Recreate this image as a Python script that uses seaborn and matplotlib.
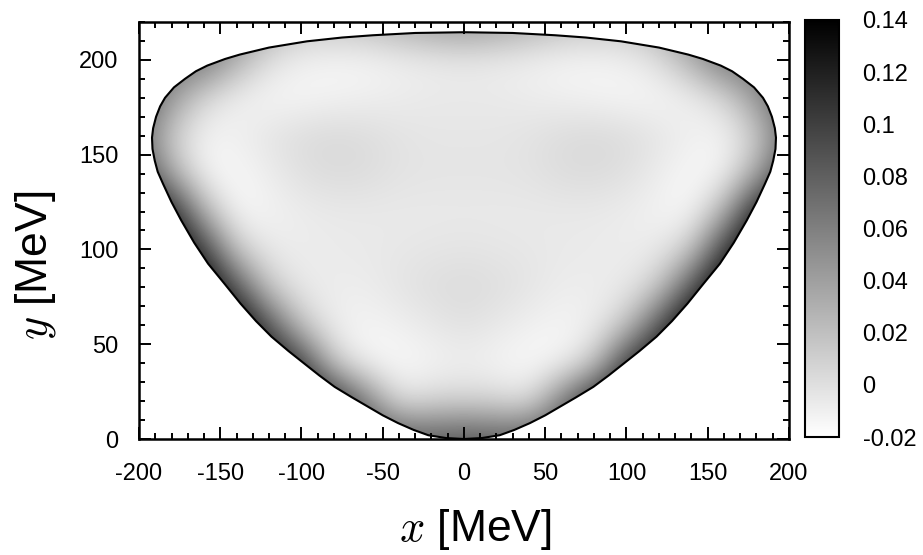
import numpy as np
import matplotlib
matplotlib.use('Agg')
import matplotlib.pyplot as plt
from matplotlib.patches import Polygon
import seaborn as sns

# ==========================================
# Data
# ==========================================
# Dalitz boundary, right half, from the bottom (0,0) up to the top (x=0)
edge_x_right = [0, 11, 22, 31, 40.6, 50, 59, 69, 79.6, 89, 98, 108, 118.5, 128,
                137.5, 147, 157.5, 166, 174, 180, 185.2, 188.5, 190.3, 191.7, 192,
                191.3, 189.5, 187, 184, 178.5, 171.7, 165, 158, 147, 138, 120,
                96.6, 75, 56, 30, 0]
edge_y_right = [0, 0.5, 2, 4.8, 8.4, 12.5, 17, 22, 27.5, 33.5, 39.6, 46.4, 54, 62.2,
                71.4, 81.5, 92.5, 103.5, 115.3, 125, 134.6, 141, 146.8, 153, 159,
                164, 170, 175.5, 180, 185.5, 190, 194, 197, 200.5, 202.8, 206.5,
                209.8, 211.8, 213, 214.2, 214.6]

# density sampled every 20 MeV: columns x = -200..200, rows y = 0..220
grid_x = [-200, -180, -160, -140, -120, -100, -80, -60, -40, -20, 0,
          20, 40, 60, 80, 100, 120, 140, 160, 180, 200]
grid_y = [0, 20, 40, 60, 80, 100, 120, 140, 160, 180, 200, 220]
density = [
    [0.14, 0.14, 0.14, 0.14, 0.14, 0.14, 0.12, 0.10, 0.09, 0.085, 0.09,
     0.085, 0.09, 0.10, 0.12, 0.14, 0.14, 0.14, 0.14, 0.14, 0.14],
    [0.15, 0.15, 0.15, 0.15, 0.15, 0.14, 0.12, 0.06, -0.002, 0.004, 0.006,
     0.004, -0.002, 0.06, 0.12, 0.14, 0.15, 0.15, 0.15, 0.15, 0.15],
    [0.15, 0.15, 0.15, 0.15, 0.14, 0.10, 0.01, -0.014, -0.016, -0.013, -0.01,
     -0.013, -0.016, -0.014, 0.01, 0.10, 0.14, 0.15, 0.15, 0.15, 0.15],
    [0.15, 0.15, 0.15, 0.15, 0.085, 0.014, -0.01, -0.013, -0.01, -0.005, -0.001,
     -0.005, -0.01, -0.013, -0.01, 0.014, 0.085, 0.15, 0.15, 0.15, 0.15],
    [0.15, 0.15, 0.15, 0.085, 0.012, -0.007, -0.008, -0.008, -0.003, 0.001, 0.003,
     0.001, -0.003, -0.008, -0.008, -0.007, 0.012, 0.085, 0.15, 0.15, 0.15],
    [0.15, 0.15, 0.10, 0.012, -0.007, -0.008, -0.007, -0.006, -0.005, -0.004, -0.003,
     -0.004, -0.005, -0.006, -0.007, -0.008, -0.007, 0.012, 0.10, 0.15, 0.15],
    [0.14, 0.12, 0.025, -0.015, -0.012, -0.008, -0.006, -0.006, -0.006, -0.006, -0.006,
     -0.006, -0.006, -0.006, -0.006, -0.008, -0.012, -0.015, 0.025, 0.12, 0.14],
    [0.10, 0.03, -0.013, -0.015, -0.008, 0.0, 0.003, 0.002, -0.002, -0.003, -0.003,
     -0.003, -0.002, 0.002, 0.003, 0.0, -0.008, -0.015, -0.013, 0.03, 0.10],
    [0.07, 0.01, -0.012, -0.01, -0.003, 0.002, 0.004, 0.002, -0.002, -0.004, -0.004,
     -0.004, -0.002, 0.002, 0.004, 0.002, -0.003, -0.01, -0.012, 0.01, 0.07],
    [0.09, 0.045, 0.004, -0.01, -0.014, -0.014, -0.012, -0.01, -0.008, -0.006, -0.006,
     -0.006, -0.008, -0.01, -0.012, -0.014, -0.014, -0.01, 0.004, 0.045, 0.09],
    [0.07, 0.07, 0.07, 0.03, 0.0, -0.01, -0.013, -0.013, -0.01, -0.008, -0.006,
     -0.008, -0.01, -0.013, -0.013, -0.01, 0.0, 0.03, 0.07, 0.07, 0.07],
    [0.06, 0.06, 0.06, 0.06, 0.035, 0.02, 0.02, 0.025, 0.035, 0.045, 0.05,
     0.045, 0.035, 0.025, 0.02, 0.02, 0.035, 0.06, 0.06, 0.06, 0.06],
]

cbar_ticks = [-0.02, 0, 0.02, 0.04, 0.06, 0.08, 0.1, 0.12, 0.14]
cbar_labels = ['-0.02', '0', '0.02', '0.04', '0.06', '0.08', '0.1', '0.12', '0.14']

# ==========================================
# Style
# ==========================================
sns.set_theme(style='ticks')
plt.rcParams['font.family'] = ['Liberation Sans', 'DejaVu Sans']
plt.rcParams['mathtext.fontset'] = 'cm'
plt.rcParams['axes.unicode_minus'] = False
plt.rcParams['text.color'] = 'black'
plt.rcParams['axes.labelcolor'] = 'black'
plt.rcParams['axes.edgecolor'] = 'black'

# full closed boundary: right half up, then left half back down
bx = np.array(edge_x_right + [-v for v in edge_x_right[::-1]])
by = np.array(edge_y_right + edge_y_right[::-1])

fig = plt.figure(figsize=(9.23, 5.55), dpi=100)
ax = fig.add_axes([0.1506, 0.209, 0.7042, 0.7514])
cax = fig.add_axes([0.8722, 0.2126, 0.0368, 0.7514])

dx = (grid_x[1] - grid_x[0]) / 2
dy = (grid_y[1] - grid_y[0]) / 2
im = ax.imshow(np.array(density), origin='lower', cmap='gray_r', vmin=-0.02, vmax=0.14,
               extent=[grid_x[0] - dx, grid_x[-1] + dx, grid_y[0] - dy, grid_y[-1] + dy],
               interpolation='bicubic', aspect='auto')
patch = Polygon(np.column_stack([bx, by]), closed=True, facecolor='none',
                edgecolor='none', transform=ax.transData)
ax.add_patch(patch)
im.set_clip_path(patch)
ax.plot(bx, by, color='black', lw=1.5, zorder=3)

ax.set_xlim(-200, 200)
ax.set_ylim(0, 220)
ax.set_xticks(np.arange(-200, 201, 50))
ax.set_yticks(np.arange(0, 201, 50))
ax.set_xticks(np.arange(-200, 201, 10), minor=True)
ax.set_yticks(np.arange(0, 221, 10), minor=True)

for sp in ax.spines.values():
    sp.set_linewidth(1.8)
    sp.set_visible(True)
    sp.set_zorder(4)
ax.tick_params(which='both', direction='in', top=True, right=True, width=1.4,
               colors='black', labelsize=17)
ax.tick_params(which='major', length=8.5)
ax.tick_params(which='minor', length=4.3)
ax.tick_params(axis='x', pad=17)
ax.tick_params(axis='y', pad=15)

ax.set_xlabel(r'$x$ [MeV]', fontsize=32)
ax.set_ylabel(r'$y$ [MeV]', fontsize=32)
ax.xaxis.set_label_coords(0.517, -0.218)
ax.xaxis.label.set_va('center')
ax.yaxis.set_label_coords(-0.16, 0.417)
ax.yaxis.label.set_va('center')

cb = fig.colorbar(im, cax=cax)
cb.set_ticks(cbar_ticks)
cb.set_ticklabels(cbar_labels)
cb.outline.set_linewidth(1.5)
cb.outline.set_edgecolor('black')
cax.tick_params(direction='in', left=True, right=True, length=6, width=1.4,
                labelsize=17, pad=17, colors='black')
cax.minorticks_off()

fig.savefig('out.png', dpi=100)
